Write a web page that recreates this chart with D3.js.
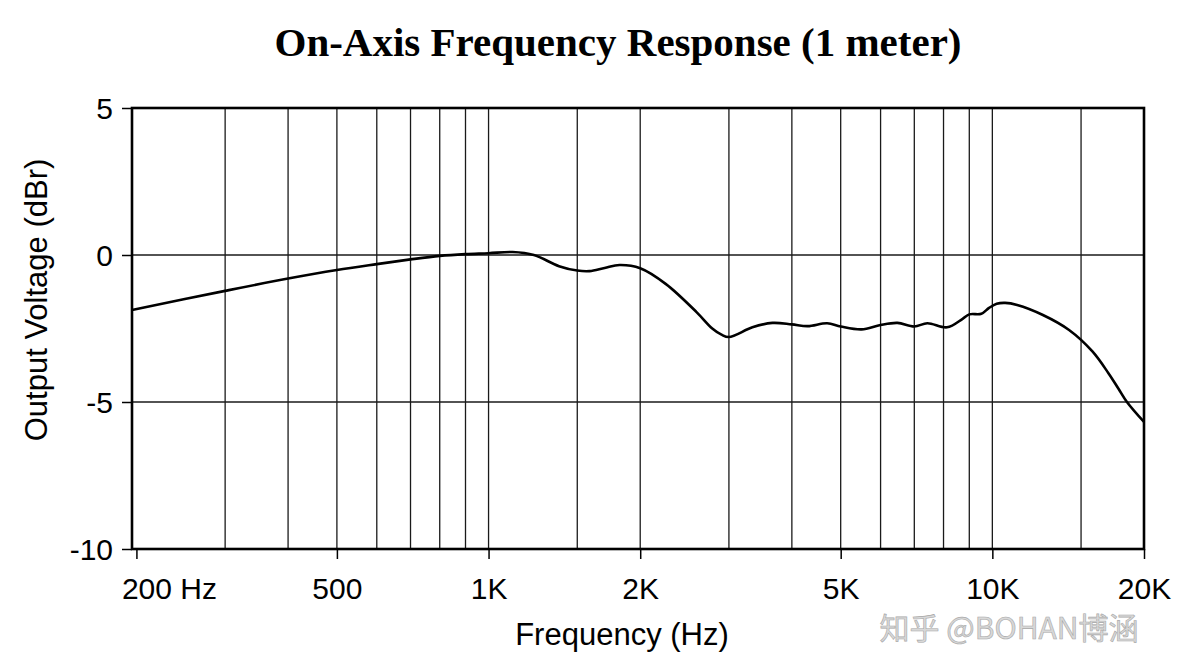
<!DOCTYPE html>
<html>
<head>
<meta charset="utf-8">
<script src="https://cdn.jsdelivr.net/npm/d3@7"></script>
<style>
  html, body { margin: 0; padding: 0; background: #fff; }
  svg { display: block; }
</style>
</head>
<body>
<div id="chart"></div>
<script>
// --- data ---
const freqHz = [196, 300, 400, 500, 600, 700, 800, 900, 1000, 1116, 1230, 1380, 1500, 1586, 1700, 1820,
  2000, 2250, 2590, 2780, 2900, 3000, 3340, 3660, 4000, 4300, 4700, 5000, 5500, 6000, 6480, 7000, 7430,
  8130, 8730, 9000, 9510, 9850, 10200, 10600, 11200, 12600, 14200, 15800, 17000, 17800, 18500, 20000];
const levelDb = [-1.87, -1.22, -0.80, -0.51, -0.31, -0.15, -0.03, 0.03, 0.06, 0.10, 0.0, -0.38, -0.53, -0.55, -0.44, -0.34,
  -0.45, -0.99, -1.95, -2.50, -2.71, -2.79, -2.46, -2.31, -2.36, -2.42, -2.32, -2.43, -2.53, -2.38, -2.31, -2.43, -2.32,
  -2.46, -2.17, -2.02, -2.00, -1.80, -1.66, -1.63, -1.70, -2.04, -2.55, -3.28, -4.02, -4.55, -5.00, -5.68];
const gridFreqs = [300, 400, 500, 600, 700, 800, 900, 1000, 1500, 2000, 3000, 4000, 5000, 6000, 7000, 8000, 9000, 10000, 15000];
const xTickValues = [200, 500, 1000, 2000, 5000, 10000, 20000];
const xTickLabels = ['200 Hz', '500', '1K', '2K', '5K', '10K', '20K'];
const yTickValues = [5, 0, -5, -10];

const W = 1192, H = 671;
const margin = { left: 132, top: 108, right: 48, bottom: 122 };
const innerW = W - margin.left - margin.right;
const innerH = H - margin.top - margin.bottom;

const svg = d3.select('#chart').append('svg')
  .attr('width', W).attr('height', H).attr('viewBox', `0 0 ${W} ${H}`);

const x = d3.scaleLog().domain([196, 20000]).range([0, innerW]);
const y = d3.scaleLinear().domain([-10, 5]).range([innerH, 0]);

// title
svg.append('text')
  .attr('x', 618).attr('y', 56)
  .attr('text-anchor', 'middle')
  .attr('font-family', '"Liberation Serif", "Times New Roman", serif')
  .attr('font-weight', 'bold')
  .attr('font-size', 41)
  .attr('fill', '#000')
  .text('On-Axis Frequency Response (1 meter)');

const g = svg.append('g').attr('transform', `translate(${margin.left},${margin.top})`);

// vertical grid
g.append('g').selectAll('line').data(gridFreqs).join('line')
  .attr('x1', d => x(d)).attr('x2', d => x(d))
  .attr('y1', 0).attr('y2', innerH)
  .attr('stroke', '#1a1a1a').attr('stroke-width', 1.3);

// horizontal grid
g.append('g').selectAll('line').data([0, -5]).join('line')
  .attr('x1', 0).attr('x2', innerW)
  .attr('y1', d => y(d)).attr('y2', d => y(d))
  .attr('stroke', '#1a1a1a').attr('stroke-width', 1.3);

// axes
const font = '"Liberation Sans", Arial, sans-serif';
const xAxis = g.append('g').attr('transform', `translate(0,${innerH})`)
  .call(d3.axisBottom(x).tickValues(xTickValues).tickSize(10).tickPadding(19)
    .tickFormat((d, i) => xTickLabels[i]));
const yAxis = g.append('g')
  .call(d3.axisLeft(y).tickValues(yTickValues).tickSize(10).tickPadding(9)
    .tickFormat(d => String(d)));
[xAxis, yAxis].forEach(a => {
  a.select('.domain').remove();
  a.selectAll('.tick line').attr('stroke', '#000').attr('stroke-width', 1.5);
  a.selectAll('text').attr('font-family', font).attr('font-size', 30).attr('fill', '#000');
});
yAxis.selectAll('.tick text').attr('dy', '0.36em');
// first label sits to the right of its tick, like the original
xAxis.selectAll('.tick text').filter((d, i) => i === 0)
  .attr('text-anchor', 'start').attr('x', -15);

// frame
g.append('rect')
  .attr('x', 0).attr('y', 0).attr('width', innerW).attr('height', innerH)
  .attr('fill', 'none').attr('stroke', '#000').attr('stroke-width', 2.6);

// response curve
const line = d3.line()
  .x((d, i) => x(freqHz[i]))
  .y(d => y(d))
  .curve(d3.curveCatmullRom.alpha(0.5));
g.append('path')
  .datum(levelDb)
  .attr('d', line)
  .attr('fill', 'none')
  .attr('stroke', '#000')
  .attr('stroke-width', 2.6)
  .attr('stroke-linejoin', 'round');

// axis titles
svg.append('text')
  .attr('x', 622).attr('y', 645)
  .attr('text-anchor', 'middle')
  .attr('font-family', font).attr('font-size', 31).attr('fill', '#000')
  .text('Frequency (Hz)');
svg.append('text')
  .attr('transform', 'translate(47,300) rotate(-90)')
  .attr('text-anchor', 'middle')
  .attr('font-family', font).attr('font-size', 31).attr('fill', '#000')
  .text('Output Voltage (dBr)');

// watermark
svg.append('text')
  .attr('x', 1009).attr('y', 639)
  .attr('text-anchor', 'middle')
  .attr('font-family', '"Noto Sans CJK SC", "Noto Sans", sans-serif')
  .attr('font-size', 30)
  .attr('fill', '#d8d8d8')
  .attr('stroke', '#a8a8a8').attr('stroke-width', 0.6)
  .text('知乎 @BOHAN博涵');
</script>
</body>
</html>
